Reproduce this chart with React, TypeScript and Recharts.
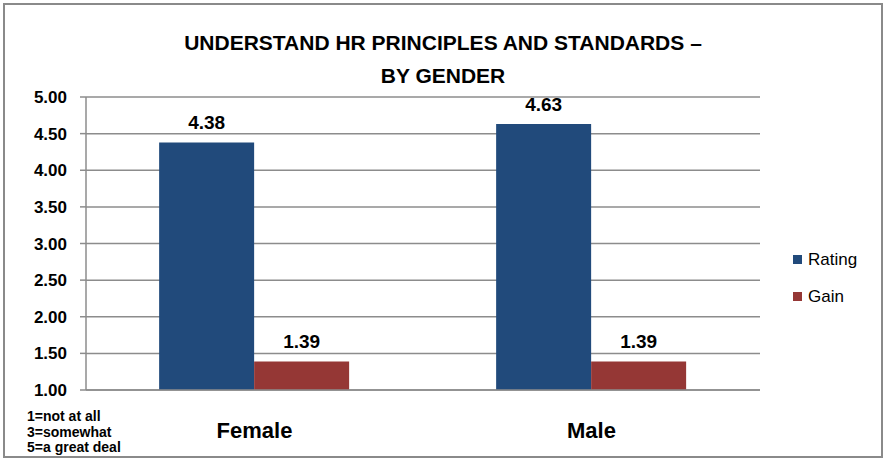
import { BarChart, Bar, XAxis, YAxis, CartesianGrid, LabelList } from 'recharts';

const genders = ['Female', 'Male'];
const rating = [4.38, 4.63];
const gain = [1.39, 1.39];
const yTicks = [1, 1.5, 2, 2.5, 3, 3.5, 4, 4.5, 5];
const scaleNotes = ['1=not at all', '3=somewhat', '5=a great deal'];
const titleLines = ['UNDERSTAND HR PRINCIPLES AND STANDARDS \u2013', 'BY GENDER'];

const RATING_COLOR = '#214A7B';
const GAIN_COLOR = '#953735';
const GRID_COLOR = '#8c8c8c';
const FONT = 'Liberation Sans, Arial, sans-serif';

const series = [
  { key: 'Rating', color: RATING_COLOR },
  { key: 'Gain', color: GAIN_COLOR },
];

const data = genders.map((g, i) => ({ gender: g, idx: i + 0.5, Rating: rating[i], Gain: gain[i] }));

const labelStyle = { fontFamily: FONT, fontWeight: 'bold', fontSize: 19, fill: '#000' };

export default function App() {
  return (
    <div style={{ position: 'absolute', left: 0, top: 0, width: 885, height: 460, background: '#fff' }}>
      <div
        style={{
          position: 'absolute',
          left: 3,
          top: 3,
          width: 876,
          height: 451,
          border: '2px solid #8a8a8a',
        }}
      />
      <div
        style={{
          position: 'absolute',
          left: 0,
          top: 26,
          width: 886,
          textAlign: 'center',
          fontFamily: FONT,
          fontWeight: 'bold',
          fontSize: 21,
          lineHeight: '33px',
          color: '#000',
        }}
      >
        {titleLines.map((t) => (
          <div key={t}>{t}</div>
        ))}
      </div>
      <div
        style={{
          position: 'absolute',
          left: 27,
          top: 409,
          fontFamily: FONT,
          fontWeight: 'bold',
          fontSize: 14,
          lineHeight: '15.5px',
          color: '#000',
        }}
      >
        {scaleNotes.map((n) => (
          <div key={n}>{n}</div>
        ))}
      </div>
      <div style={{ position: 'absolute', left: 793, top: 241, fontFamily: FONT, fontSize: 17, color: '#000' }}>
        {series.map((s) => (
          <div key={s.key} style={{ display: 'flex', alignItems: 'center', height: 37 }}>
            <span style={{ width: 9, height: 9, background: s.color, marginRight: 6, display: 'inline-block' }} />
            {s.key}
          </div>
        ))}
      </div>
      <div style={{ position: 'absolute', left: 0, top: 0 }}>
        <BarChart
          width={885}
          height={460}
          data={data}
          margin={{ top: 97, right: 125, bottom: 0, left: 0 }}
          barCategoryGap="21.7%"
          barGap={0}
        >
          <CartesianGrid vertical={false} stroke={GRID_COLOR} strokeWidth={1.5} />
          <XAxis
            xAxisId="cat"
            dataKey="gender"
            height={70}
            tickLine={false}
            axisLine={{ stroke: GRID_COLOR, strokeWidth: 1.5 }}
            tickMargin={26}
            tick={{ fontFamily: FONT, fontWeight: 'bold', fontSize: 22, fill: '#000' }}
          />
          <XAxis
            xAxisId="bound"
            type="number"
            dataKey="idx"
            domain={[0, 2]}
            ticks={[0, 1, 2]}
            height={0}
            axisLine={false}
            tick={false}
            tickLine={{ stroke: GRID_COLOR, strokeWidth: 1.5 }}
            tickSize={6}
          />
          <YAxis
            width={86}
            domain={[1, 5]}
            ticks={yTicks}
            tickFormatter={(v: number) => v.toFixed(2)}
            interval={0}
            axisLine={{ stroke: GRID_COLOR, strokeWidth: 1.5 }}
            tickLine={{ stroke: GRID_COLOR, strokeWidth: 1.5 }}
            tickSize={6}
            tickMargin={13}
            tick={{ fontFamily: FONT, fontWeight: 'bold', fontSize: 17, fill: '#000' }}
          />
          {series.map((s) => (
            <Bar key={s.key} xAxisId="cat" dataKey={s.key} fill={s.color} isAnimationActive={false}>
              <LabelList
                dataKey={s.key}
                position="top"
                offset={13}
                formatter={(v: number) => v.toFixed(2)}
                style={labelStyle}
              />
            </Bar>
          ))}
        </BarChart>
      </div>
    </div>
  );
}
